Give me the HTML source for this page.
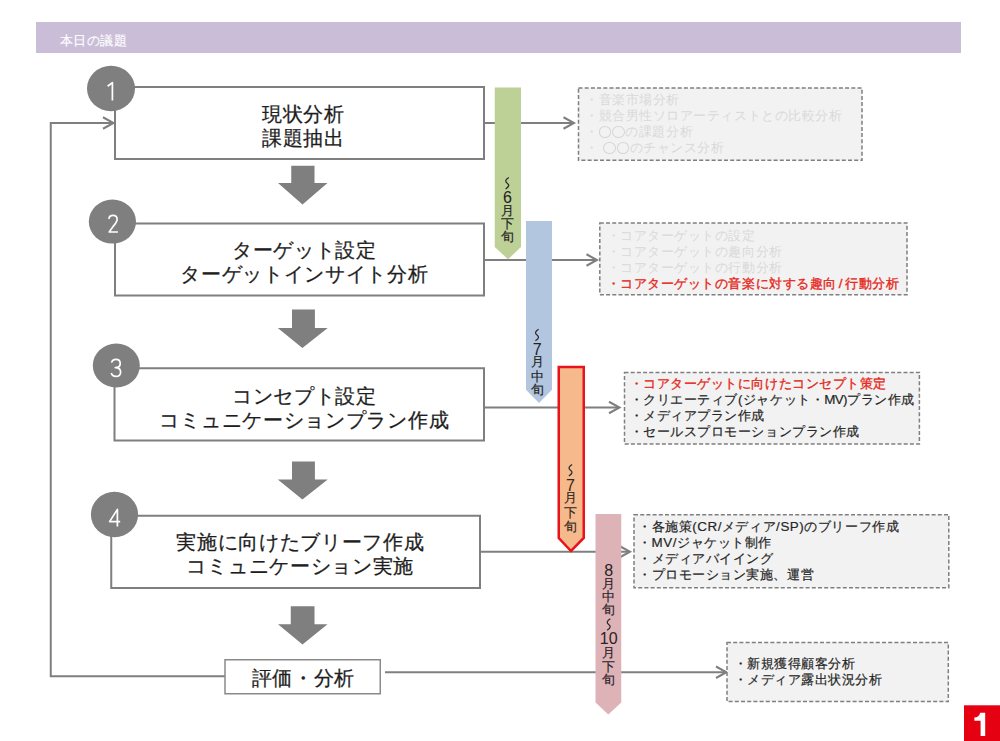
<!DOCTYPE html><html><head><meta charset="utf-8"><style>
html,body{margin:0;padding:0;background:#fff;}
body{width:1000px;height:741px;overflow:hidden;position:relative;font-family:"Liberation Sans",sans-serif;}
.abs{position:absolute;white-space:nowrap;}
.big{font-size:20px;color:#1e1e1e;line-height:24px;text-align:center;width:400px;letter-spacing:0.7px;-webkit-text-stroke:0.25px #1e1e1e;}
.lst{font-size:13.4px;line-height:16px;color:#262626;letter-spacing:0.55px;-webkit-text-stroke:0.2px currentColor;}
.lt{color:#d9d9d9;-webkit-text-stroke:0px #d9d9d9;}
.red{color:#e5291c;-webkit-text-stroke:0.35px #e5291c;}
.vc{position:absolute;width:30px;text-align:center;font-size:13px;line-height:16px;color:#222;-webkit-text-stroke:0.15px currentColor;}
.vd{font-size:16px;font-weight:normal;-webkit-text-stroke:0px currentColor;}
.o{display:inline-block;width:12.4px;height:11.4px;border:1.1px solid #d6d6d6;border-radius:50%;box-sizing:border-box;margin:0 0.5px;vertical-align:-1.5px;}
</style></head><body>
<div class="abs" style="left:35.5px;top:21.5px;width:925px;height:31px;background:#cabdd8"></div>
<div class="abs" style="left:60px;top:32.5px;font-size:13px;line-height:16px;color:#fff;letter-spacing:0.45px;-webkit-text-stroke:0.15px #fff">本日の議題</div>
<svg class="abs" style="left:0;top:0" width="1000" height="741" viewBox="0 0 1000 741">
<g fill="none" stroke="#7f7f7f" stroke-width="2">
<rect x="115" y="87" width="369" height="72"/>
<rect x="115" y="223.5" width="369" height="72"/>
<rect x="114.5" y="368.25" width="369.5" height="72.25"/>
<rect x="111.25" y="515.75" width="368.75" height="72.25"/>
<polyline points="225,676.25 50.75,676.25 50.75,123 113.5,123"/>
<polyline points="103.0,117.25 113.5,123 103.0,128.75"/>
<line x1="484" y1="123" x2="574" y2="123"/>
<polyline points="563.5,117.25 574,123 563.5,128.75"/>
<line x1="484" y1="260" x2="597" y2="260"/>
<polyline points="586.5,254.25 597,260 586.5,265.75"/>
<line x1="484" y1="407.5" x2="619.5" y2="407.5"/>
<polyline points="609.0,401.75 619.5,407.5 609.0,413.25"/>
<line x1="480" y1="551.75" x2="630" y2="551.75"/>
<polyline points="619.5,546.0 630,551.75 619.5,557.5"/>
<line x1="385" y1="672.25" x2="726.5" y2="672.25"/>
<polyline points="716.0,666.5 726.5,672.25 716.0,678.0"/>
</g>
<rect x="225" y="659.75" width="155.25" height="34" fill="#fff" stroke="#8a8a8a" stroke-width="1.5"/>
<g fill="#7f7f7f">
<ellipse cx="111" cy="88.5" rx="24" ry="22.7"/>
<ellipse cx="112.4" cy="221.6" rx="23.6" ry="22"/>
<ellipse cx="116.3" cy="365.5" rx="23.5" ry="22"/>
<ellipse cx="114.5" cy="514.5" rx="23.6" ry="22.8"/>
<polygon points="291.25,165.75 314.5,165.75 314.5,183 327.5,183 302.5,204.5 278,183 291.25,183"/>
<polygon points="292,309.5 314.9,309.5 314.9,328 327.7,328 302.4,348 277.8,328 292,328"/>
<polygon points="292,461.5 314.9,461.5 314.9,479.5 327.7,479.5 302.4,499.5 277.8,479.5 292,479.5"/>
<polygon points="290.75,606.25 314.5,606.25 314.5,624.25 327.5,624.25 302.5,644.5 278,624.25 290.75,624.25"/>
</g>
<g fill="none" stroke="#fff" stroke-width="1.7" stroke-linecap="butt" stroke-linejoin="round">
<path d="M107.6,86.2 L112.4,82.6 L112.4,100.5"/>
<path d="M108.9,219 C109.1,216.5 110.8,215.4 113,215.4 C115.4,215.4 117.1,217 117.1,219.3 C117.1,221.7 115.7,223.4 113.8,225.6 L109.2,232 L117.9,232"/>
<path d="M111.6,362.6 C112.1,360.2 113.8,359.4 116,359.4 C118.7,359.4 120.2,361.1 120.2,363.5 C120.2,366.1 118.3,367.6 115.3,367.6 C118.7,367.6 120.6,369.5 120.6,372.2 C120.6,375 118.5,376.4 115.9,376.4 C113.5,376.4 111.9,375.4 111.3,373"/>
<path d="M117.4,526.4 L117.4,509.4 L109.6,521.6 L120.2,521.6"/>
</g>
<polygon points="494.75,87.5 521,87.5 521,247 508,259.2 494.75,247" fill="#bdd095"/>
<polygon points="526,221 552,221 552,389.8 539,403 526,389.8" fill="#b3c6df"/>
<polygon points="558.75,367 583.75,367 583.75,538 571,551 558.75,538" fill="#f5b98b" stroke="#e8131b" stroke-width="2.5"/>
<polygon points="595.5,514 621.25,514 621.25,702.5 608.3,714.5 595.5,702.5" fill="#ddb3b7"/>
<g fill="#f2f2f2" stroke="#7f7f7f" stroke-width="1.5" stroke-dasharray="4 2.2">
<rect x="578.5" y="88" width="283.5" height="72.3"/>
<rect x="599.8" y="223" width="307.2" height="71.7"/>
<rect x="624.5" y="372.4" width="294.9" height="71.6"/>
<rect x="634" y="514.7" width="314.8" height="73"/>
<rect x="727" y="642.5" width="221.3" height="59"/>
</g>
<path d="M508.8,177.5 C505.0,179.8 505.0,181.8 507.2,183.25 C509.4,184.75 509.4,186.5 505.59999999999997,189.0" fill="none" stroke="#2a2a2a" stroke-width="1.25"/>
<path d="M538.6,329.3 C534.8,331.6 534.8,333.6 537.0,335.05 C539.2,336.55 539.2,338.3 535.4,340.8" fill="none" stroke="#2a2a2a" stroke-width="1.25"/>
<path d="M572.1,464.5 C568.3,466.8 568.3,468.8 570.5,470.25 C572.7,471.75 572.7,473.5 568.9,476.0" fill="none" stroke="#2a2a2a" stroke-width="1.25"/>
<path d="M610.3000000000001,618.8 C606.5,621.0999999999999 606.5,623.0999999999999 608.7,624.55 C610.9000000000001,626.05 610.9000000000001,627.8 607.1,630.3" fill="none" stroke="#2a2a2a" stroke-width="1.25"/>
<rect x="964" y="705.3" width="36.5" height="36" fill="#e50012"/>
<path d="M985.2,712.7 L985.2,736 L980.6,736 L980.6,720.8 L974.4,720.8 L974.4,717.6 Q979,717.4 980.2,712.7 Z" fill="#fff"/>
</svg>
<div class="abs big" style="left:103.35px;top:102px">現状分析<br>課題抽出</div>
<div class="abs big" style="left:104.35px;top:238px">ターゲット設定<br>ターゲットインサイト分析</div>
<div class="abs big" style="left:104.35px;top:384px">コンセプト設定<br>コミュニケーションプラン作成</div>
<div class="abs big" style="left:100.35px;top:530px">実施に向けたブリーフ作成<br>コミュニケーション実施</div>
<div class="abs big" style="left:103.35px;top:666px">評価・分析</div>
<div class="vc vd" style="left:492.5px;top:190.1px;color:#222">6</div>
<div class="vc" style="left:492.5px;top:202.5px;color:#222">月</div>
<div class="vc" style="left:492.5px;top:215.5px;color:#222">下</div>
<div class="vc" style="left:492.5px;top:229.0px;color:#222">旬</div>
<div class="vc vd" style="left:522.2px;top:341.8px;color:#222">7</div>
<div class="vc" style="left:522.2px;top:354.2px;color:#222">月</div>
<div class="vc" style="left:522.2px;top:368.8px;color:#222">中</div>
<div class="vc" style="left:522.2px;top:382.3px;color:#222">旬</div>
<div class="vc vd" style="left:555.5px;top:478.20000000000005px;color:#2f2620">7</div>
<div class="vc" style="left:555.5px;top:490.1px;color:#2f2620">月</div>
<div class="vc" style="left:555.5px;top:504.5px;color:#2f2620">下</div>
<div class="vc" style="left:555.5px;top:518.5px;color:#2f2620">旬</div>
<div class="vc vd" style="left:593.75px;top:562.8000000000001px;color:#2a2224">8</div>
<div class="vc" style="left:593.75px;top:575.5px;color:#2a2224">月</div>
<div class="vc" style="left:593.75px;top:588.7px;color:#2a2224">中</div>
<div class="vc" style="left:593.75px;top:601.9px;color:#2a2224">旬</div>
<div class="vc vd" style="left:593.75px;top:631.4px;color:#2a2224">10</div>
<div class="vc" style="left:593.75px;top:644.5px;color:#2a2224">月</div>
<div class="vc" style="left:593.75px;top:658.6px;color:#2a2224">下</div>
<div class="vc" style="left:593.75px;top:671.9px;color:#2a2224">旬</div>
<div class="abs lst lt" style="left:585px;top:92px">・音楽市場分析<br>・競合男性ソロアーティストとの比較分析<br>・<span class="o"></span><span class="o"></span>の課題分析<br>・ <span class="o"></span><span class="o"></span>のチャンス分析</div>
<div class="abs lst" style="left:606.5px;top:228px"><span class="lt">・コアターゲットの設定<br>・コアターゲットの趣向分析<br>・コアターゲットの行動分析</span><br><span class="red">・コアターゲットの音楽に対する趣向<span style="margin:0 2px">/</span>行動分析</span></div>
<div class="abs lst" style="left:629.5px;top:375.5px"><span class="red">・コアターゲットに向けたコンセプト策定</span><br>・クリエーティブ(ジャケット・<span style="letter-spacing:-0.6px">MV)</span>プラン作成<br>・メディアプラン作成<br>・セールスプロモーションプラン作成</div>
<div class="abs lst" style="left:638px;top:519px">・各施策(CR/メディア/SP)のブリーフ作成<br>・MV/ジャケット制作<br>・メディアバイイング<br>・プロモーション実施、運営</div>
<div class="abs lst" style="left:733.5px;top:655.5px">・新規獲得顧客分析<br>・メディア露出状況分析</div>
</body></html>
